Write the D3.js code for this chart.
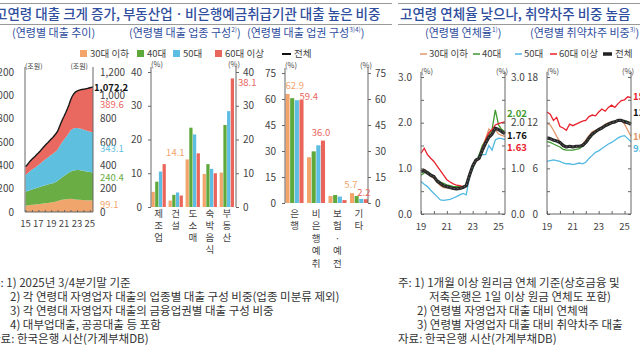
<!DOCTYPE html>
<html><head><meta charset="utf-8">
<script src="https://cdn.jsdelivr.net/npm/d3@7/dist/d3.min.js"></script>
<style>
html,body{margin:0;padding:0;background:#fff;}
svg{display:block;}
text{font-family:"Noto Sans CJK KR","Noto Sans",sans-serif;}
</style></head><body>
<svg id="c" width="640" height="360"></svg>
<script>
// ================= DATA =================
const ageGroups = ["30대 이하","40대","50대","60대 이상"];

// Panel 1: 연령별 대출 추이 (조원), 2015Q1–2025Q3
const loanQuarters = ["15Q1","15Q2","15Q3","15Q4","16Q1","16Q2","16Q3","16Q4","17Q1","17Q2","17Q3","17Q4",
  "18Q1","18Q2","18Q3","18Q4","19Q1","19Q2","19Q3","19Q4","20Q1","20Q2","20Q3","20Q4","21Q1","21Q2","21Q3","21Q4",
  "22Q1","22Q2","22Q3","22Q4","23Q1","23Q2","23Q3","23Q4","24Q1","24Q2","24Q3","24Q4","25Q1","25Q2","25Q3"];
const loanUnder30 = [55,56,58,60, 62,63,64,66, 67,68,70,72, 74,75,77,79, 81,83,86,90, 95,99,102,105, 107,109,110,112, 113,112,110,108, 106,105,104,103, 102,101,101,100, 100,99.5,99.1];
const loan40s = [120,122,125,128, 131,134,137,140, 143,146,149,152, 154,156,158,160, 162,164,166,168, 172,180,188,195, 202,210,218,226, 233,240,245,250, 253,254,254,253, 251,249,247,245, 243,241.5,240.4];
const loan50s = [143,150,158,165, 171,176,181,186, 192,199,206,213, 220,227,233,240, 246,252,258,263, 268,280,292,303, 312,320,330,340, 352,358,362,362, 360,358,357,356, 354,352,350,348, 346,344.5,343.1];
const loan60plus = [72,75,80,85, 88,92,96,100, 104,108,112,116, 120,124,128,132, 136,140,146,152, 158,168,178,190, 200,212,225,240, 260,280,295,308, 318,326,332,338, 345,352,360,368, 376,383,389.6];
const loanTicks = [0,200,400,600,800,1000,1200];
const loanYearTicks = ["15","17","19","21","23","25"];

// Panel 2: 연령별 대출 업종 구성 (%)
const industries = ["제조업","건설","도소매","숙박음식","부동산"];
const indUnder30 = [4.5,1.9,14.1,9.8,10.2];
const ind40s = [7.5,3.6,23.5,12.7,24.3];
const ind50s = [10.5,4.3,21.5,11.3,28.4];
const ind60plus = [12.7,3.4,15.9,10.0,38.1];
const indTicks = [0,10,20,30,40];

// Panel 3: 연령별 대출 업권 구성 (%)
const sectors = ["은행","비은행예취","보험ㆍ예전","기타"];
const secUnder30 = [62.9,26.4,4.0,5.7];
const sec40s = [60.5,29.8,4.6,4.0];
const sec50s = [59.3,33.3,3.7,2.4];
const sec60plus = [59.4,36.0,1.7,2.2];
const secTicks = [0,15,30,45,60,75];

// Panel 4/5: 2019Q1–2025Q3
const rateQuarters = ["19Q1","19Q2","19Q3","19Q4","20Q1","20Q2","20Q3","20Q4","21Q1","21Q2","21Q3","21Q4",
  "22Q1","22Q2","22Q3","22Q4","23Q1","23Q2","23Q3","23Q4","24Q1","24Q2","24Q3","24Q4","25Q1","25Q2","25Q3"];
const delinqUnder30 = [0.95,0.98,0.90,0.82, 0.78,0.70,0.62,0.58, 0.57,0.56,0.55,0.55, 0.56,0.58,0.60,0.82, 1.05,1.20,1.25,1.45, 1.65,1.86,1.80,1.85, 1.75,1.72,1.70];
const delinq40s = [1.33,1.44,1.30,1.22, 1.15,1.05,0.95,0.85, 0.75,0.70,0.66,0.63, 0.62,0.60,0.62,0.85, 1.05,1.15,1.20,1.45, 1.62,1.78,1.85,1.95, 1.98,2.00,2.02];
const delinq50s = [0.85,0.90,0.93,0.88, 0.80,0.75,0.70,0.67, 0.64,0.62,0.60,0.60, 0.60,0.60,0.62,0.85, 1.00,1.15,1.30,1.50, 1.62,1.73,1.85,2.28, 1.95,1.85,1.80];
const delinq60plus = [0.71,0.65,0.60,0.52, 0.45,0.38,0.31,0.30, 0.31,0.32,0.35,0.38, 0.42,0.45,0.42,0.80, 1.00,1.19,1.25,1.30, 1.30,1.50,1.40,1.62, 1.66,1.65,1.63];
const delinqTotal = [0.93,0.95,0.90,0.85, 0.82,0.72,0.67,0.62, 0.60,0.58,0.56,0.55, 0.56,0.58,0.62,0.85, 1.05,1.18,1.22,1.40, 1.55,1.68,1.75,1.88, 1.85,1.80,1.76];
const delinqTicks = [0,1,2,3];

const vulnUnder30 = [11.9,11.7,11.0,10.2, 9.5,9.0,8.8,8.9, 8.9,8.8,8.9,9.2, 9.7,10.3,10.8,11.0, 11.2,11.5,11.8,12.0, 12.1,12.2,12.4,12.3, 11.8,11.0,10.2];
const vuln40s = [9.5,9.4,9.2,9.0, 8.8,8.5,8.4,8.4, 8.4,8.5,8.6,8.9, 9.3,9.8,10.3,10.7, 11.0,11.3,11.5,11.7, 11.9,12.0,12.2,12.3, 12.3,12.1,12.0];
const vuln50s = [6.9,7.0,7.1,7.0, 6.9,6.7,6.6,6.6, 6.5,6.6,6.7,6.6, 6.8,7.3,7.7,8.1, 8.3,8.6,8.9,9.2, 9.4,9.7,10.0,10.2, 10.3,9.9,9.5];
const vuln60plus = [13.4,13.1,12.3,12.7, 11.5,11.3,11.0,11.8, 11.6,11.8,12.0,12.2, 12.3,12.8,13.0,12.9, 13.4,13.8,13.5,14.0, 14.3,14.0,14.5,14.9, 15.0,15.4,15.3];
const vulnTotal = [10.0,9.9,9.7,9.6, 9.4,9.0,8.8,8.9, 8.8,8.9,8.9,9.0, 9.4,10.0,10.5,10.8, 11.1,11.3,11.6,11.8, 12.0,12.1,12.3,12.3, 12.1,12.0,11.8];
const vulnTicks = [0,6,12,18];
const rateYearTicks = ["19","21","23","25"];

// ================= STYLE =================
const areaCol = ["#f0a56c","#6aad45","#5ec0de","#e9685f"];
const barCol  = ["#f2a46b","#5fa83c","#5dbde2","#ea665d"];
const lineCol = ["#e0976a","#3f9a2e","#52b9e2","#e8212c"];
const blue = "#2f4e9e", axisC = "#666", txtC = "#444";

const svg = d3.select("#c");
const qt = q => 2000 + (+q.slice(0,2)) + (+q.slice(3) - 1) / 4;
const yr = s => 2000 + (+s);

function txt(x, y, s, o = {}) {
  const t = svg.append("text").attr("x", x).attr("y", y).text(s)
    .attr("font-size", o.size || 10).attr("fill", o.fill || txtC)
    .attr("text-anchor", o.anchor || "start");
  if (o.weight) t.attr("font-weight", o.weight);
  return t;
}
function vline(x, y1, y2) {
  svg.append("line").attr("x1", x).attr("x2", x).attr("y1", y1).attr("y2", y2)
    .attr("stroke", axisC).attr("stroke-width", 1);
}
function styleAxis(g, size) {
  g.select(".domain").remove();
  g.selectAll(".tick line").attr("stroke", axisC);
  g.selectAll(".tick text").attr("font-size", size || 10).attr("fill", txtC)
    .attr("font-family", '"Noto Sans","Noto Sans CJK KR",sans-serif');
}

// ================= HEADERS =================
[[0,392],[398,640]].forEach(([a,b]) => {
  svg.append("line").attr("x1",a).attr("x2",b).attr("y1",3.5).attr("y2",3.5).attr("stroke","#999");
  svg.append("line").attr("x1",a).attr("x2",b).attr("y1",24.5).attr("y2",24.5).attr("stroke","#999");
});

txt(-5, 19, "고연령 대출 크게 증가, 부동산업ㆍ비은행예금취급기관 대출 높은 비중", {size:13.5, fill:blue, weight:500});
txt(400, 19, "고연령 연체율 낮으나, 취약차주 비중 높음", {size:13.5, fill:blue, weight:500});

function subtitle(x, main, sup, close) {
  const t = txt(x, 37, main, {size:11, fill:blue});
  if (sup) t.append("tspan").attr("font-size", 6.5).attr("dy", -5).text(sup);
  if (close) t.append("tspan").attr("font-size", 11).attr("dy", 5).text(")");
}
subtitle(12, "(연령별 대출 추이)");
subtitle(129, "(연령별 대출 업종 구성", "2)", true);
subtitle(247, "(연령별 대출 업권 구성", "3)4)", true);
subtitle(425, "(연령별 연체율", "1)", true);
subtitle(530, "(연령별 취약차주 비중", "3)", true);

// ================= LEGENDS =================
const legL = [80, 137, 173, 215];
ageGroups.forEach((g, i) => {
  svg.append("rect").attr("x", legL[i]).attr("y", 50).attr("width", 7).attr("height", 7).attr("fill", barCol[i]);
  txt(legL[i] + 10, 57, g, {size:9.5});
});
svg.append("line").attr("x1",282).attr("x2",291).attr("y1",54).attr("y2",54).attr("stroke","#111").attr("stroke-width",2);
txt(294, 57, "전체", {size:9.5});

const legR = [420, 473, 515, 550];
ageGroups.forEach((g, i) => {
  svg.append("line").attr("x1", legR[i]).attr("x2", legR[i] + 7).attr("y1", 54).attr("y2", 54)
    .attr("stroke", lineCol[i]).attr("stroke-width", 1.5);
  txt(legR[i] + 9, 57, g, {size:9.5});
});
svg.append("line").attr("x1",603).attr("x2",612).attr("y1",54).attr("y2",54).attr("stroke","#222").attr("stroke-width",3.5);
txt(615, 57, "전체", {size:9.5});

// ================= PANEL 1: stacked area =================
{
  const x = d3.scaleLinear().domain([2015, 2025.5]).range([25.5, 93]);
  const y = d3.scaleLinear().domain([0, 1200]).range([212, 72]);
  const rows = loanQuarters.map((q, i) => ({t: qt(q), a: loanUnder30[i], b: loan40s[i], c: loan50s[i], d: loan60plus[i]}));
  const st = d3.stack().keys(["a","b","c","d"])(rows);
  const area = d3.area().x(d => x(d.data.t)).y0(d => y(d[0])).y1(d => y(d[1]));
  svg.append("g").selectAll("path").data(st).join("path").attr("d", area).attr("fill", (d, i) => areaCol[i]);
  svg.append("path").datum(st[3]).attr("fill","none").attr("stroke","#1a1a1a").attr("stroke-width",1.4)
    .attr("d", d3.line().x(d => x(d.data.t)).y(d => y(d[1])));
  vline(25, 67, 212); vline(93, 67, 212);
  svg.append("line").attr("x1",25).attr("x2",93).attr("y1",212).attr("y2",212).attr("stroke",axisC);
  styleAxis(svg.append("g").attr("transform","translate(25,0)")
    .call(d3.axisLeft(y).tickValues(loanTicks).tickSize(0).tickPadding(11).tickFormat(d3.format(","))));
  styleAxis(svg.append("g").attr("transform","translate(93,0)")
    .call(d3.axisRight(y).tickValues(loanTicks).tickSize(0).tickPadding(7).tickFormat(d3.format(","))));
  styleAxis(svg.append("g").attr("transform","translate(0,212)")
    .call(d3.axisBottom(x).tickValues(d3.range(2015, 2026)).tickSize(-2).tickFormat(() => "")));
  svg.append("g").selectAll("text").data(loanYearTicks).join("text")
    .attr("x", d => x(yr(d))).attr("y", 226.5).attr("text-anchor","middle")
    .attr("font-size", 9.5).attr("fill", txtC).text(d => d);
  txt(25, 69, "(조원)", {size:7});
  txt(88, 69, "(조원)", {size:7, anchor:"end"});
  const last = st.map(s => s[s.length - 1]);
  const offs = [1.5, -5.5, -0.5, -1.5];
  const fmt = d3.format(",.1f");
  last.forEach((d, i) => {
    txt(100, y((d[0] + d[1]) / 2) + offs[i], fmt(d[1] - d[0]), {size:9.5, fill: areaCol[i]});
  });
  txt(94, y(last[3][1]) + 4.5, fmt(last[3][1]), {size:9.5, fill:"#111", weight:"bold"});
}

// ================= bar panel helper =================
function barPanel(cats, series, x0, x1, y0, yTop, maxV, ticks, axL, axR, rowGap) {
  const x = d3.scaleBand().domain(cats).range([x0 + 0.5, x1 - 2]).paddingInner(0.16);
  const xs = d3.scaleBand().domain(ageGroups).range([0, x.bandwidth()]).paddingInner(0.12);
  const y = d3.scaleLinear().domain([0, maxV]).range([y0, yTop]);
  series.forEach((vals, si) => {
    svg.append("g").selectAll("rect").data(vals).join("rect")
      .attr("x", (d, i) => x(cats[i]) + xs(ageGroups[si]))
      .attr("width", xs.bandwidth())
      .attr("y", d => y(d)).attr("height", d => y0 - y(d))
      .attr("fill", barCol[si]);
  });
  vline(axL, yTop - 5, y0); vline(axR, yTop - 5, y0);
  styleAxis(svg.append("g").attr("transform", `translate(${axL},0)`)
    .call(d3.axisLeft(y).tickValues(ticks).tickSize(3).tickPadding(6)));
  styleAxis(svg.append("g").attr("transform", `translate(${axR},0)`)
    .call(d3.axisRight(y).tickValues(ticks).tickSize(3).tickPadding(4)));
  txt(axL, yTop - 5, "(%)", {size:7.5});
  txt(axR + 4, yTop - 5, "(%)", {size:7.5, anchor:"end"});
  cats.forEach(c => {
    Array.from(c).forEach((ch, k) => {
      txt(x(c) + x.bandwidth() / 2, 216.5 + k * rowGap, ch, {size:9.5, anchor:"middle"});
    });
  });
  return {x, xs, y};
}

// ================= PANEL 2 =================
{
  const s = [indUnder30, ind40s, ind50s, ind60plus];
  const {x, xs, y} = barPanel(industries, s, 151, 236, 207, 72, 40, indTicks, 151, 236, 12);
  txt(x(industries[2]) + xs(ageGroups[0]) - 1, y(indUnder30[2]) - 3, indUnder30[2].toFixed(1), {size:9.5, fill:barCol[0], anchor:"end"});
  txt(x(industries[4]) + xs(ageGroups[3]) + xs.bandwidth() + 4, y(ind60plus[4]) + 8, ind60plus[4].toFixed(1), {size:9.5, fill:barCol[3]});
}

// ================= PANEL 3 =================
{
  const s = [secUnder30, sec40s, sec50s, sec60plus];
  const {x, xs, y} = barPanel(sectors, s, 285, 370, 203, 73, 75, secTicks, 285, 368, 12.5);
  txt(x(sectors[0]) + xs(ageGroups[0]), y(secUnder30[0]) - 5, secUnder30[0].toFixed(1), {size:9.5, fill:barCol[0]});
  txt(x(sectors[0]) + xs(ageGroups[3]), y(sec60plus[0]) - 0.5, sec60plus[0].toFixed(1), {size:9.5, fill:barCol[3]});
  txt(x(sectors[1]) + xs(ageGroups[3]), y(sec60plus[1]) - 5, sec60plus[1].toFixed(1), {size:9.5, fill:barCol[3], anchor:"middle"});
  txt(x(sectors[3]) + xs(ageGroups[0]) + 1, y(secUnder30[3]) - 5, secUnder30[3].toFixed(1), {size:9.5, fill:barCol[0], anchor:"middle"});
  txt(x(sectors[3]) + xs(ageGroups[3]), y(sec60plus[3]) - 3, sec60plus[3].toFixed(1), {size:9.5, fill:barCol[3], anchor:"middle"});
}

// ================= line panel helper =================
function linePanel(series, total, xL, xR, maxV, ticks, minorStep, fmtT, rightLabels) {
  const x = d3.scaleLinear().domain([2019, 2025.5]).range([xL, xR]);
  const y = d3.scaleLinear().domain([0, maxV]).range([214, 77]);
  const line = d3.line().x((d, i) => x(qt(rateQuarters[i]))).y(d => y(d));
  series.forEach((s, i) => {
    svg.append("path").datum(s).attr("d", line).attr("fill","none")
      .attr("stroke", lineCol[i]).attr("stroke-width", 1.3);
  });
  svg.append("path").datum(total).attr("d", line).attr("fill","none")
    .attr("stroke", "#262626").attr("stroke-width", 3.2).attr("stroke-linejoin","round");
  svg.append("path").datum(total).attr("d", line).attr("fill","none")
    .attr("stroke", "#777").attr("stroke-width", 0.8).attr("stroke-dasharray","1.5 2");
  vline(xL, 72, 214); vline(xR, 72, 214);
  svg.append("line").attr("x1", xL).attr("x2", xR).attr("y1", 214).attr("y2", 214).attr("stroke", axisC);
  const minor = d3.range(0, maxV + 1e-9, minorStep);
  styleAxis(svg.append("g").attr("transform", `translate(${xL},0)`)
    .call(d3.axisRight(y).tickValues(minor).tickSize(3).tickFormat(() => "")));
  styleAxis(svg.append("g").attr("transform", `translate(${xR},0)`)
    .call(d3.axisLeft(y).tickValues(minor).tickSize(3).tickFormat(() => "")));
  styleAxis(svg.append("g").attr("transform", `translate(${xL},0)`)
    .call(d3.axisLeft(y).tickValues(ticks).tickSize(0).tickPadding(9).tickFormat(fmtT)));
  if (rightLabels) styleAxis(svg.append("g").attr("transform", `translate(${xR},0)`)
    .call(d3.axisRight(y).tickValues(ticks).tickSize(0).tickPadding(6).tickFormat(fmtT)));
  styleAxis(svg.append("g").attr("transform", "translate(0,214)")
    .call(d3.axisTop(x).tickValues(d3.range(2019, 2026)).tickSize(3).tickFormat(() => "")));
  svg.append("g").selectAll("text").data(rateYearTicks).join("text")
    .attr("x", d => x(yr(d))).attr("y", 230).attr("text-anchor","middle")
    .attr("font-size", 9.5).attr("fill", txtC).text(d => d);
  txt(xL, 74, "(%)", {size:7.5});
  txt(xR + 3, 74, "(%)", {size:7.5, anchor:"end"});
  return {x, y};
}

// ================= PANEL 4 =================
linePanel([delinqUnder30, delinq50s, delinq60plus, delinq40s], delinqTotal, 421, 505, 3, delinqTicks, 0.5, d3.format(".1f"), true);
{
  const y = d3.scaleLinear().domain([0, 3]).range([214, 77]);
  const e = a => a[a.length - 1];
  txt(507, y(e(delinq40s)) - 5, e(delinq40s).toFixed(2), {size:9.5, fill:"#3f9a2e", weight:"bold"});
  txt(507, y(e(delinqTotal)) + 5, e(delinqTotal).toFixed(2), {size:9.5, fill:"#111", weight:"bold"});
  txt(507, y(e(delinq60plus)) + 11, e(delinq60plus).toFixed(2), {size:9.5, fill:"#e8212c", weight:"bold"});
}

// ================= PANEL 5 =================
linePanel([vulnUnder30, vuln40s, vuln50s, vuln60plus], vulnTotal, 547, 631, 18, vulnTicks, 3, d3.format("d"), false);
{
  const y = d3.scaleLinear().domain([0, 18]).range([214, 77]);
  const e = a => a[a.length - 1];
  txt(633, y(e(vuln60plus)) + 2, e(vuln60plus).toFixed(1), {size:9.5, fill:"#e8212c", weight:"bold"});
  txt(633, y(e(vulnTotal)) - 8, e(vulnTotal).toFixed(1), {size:9.5, fill:"#111", weight:"bold"});
  txt(633, y(e(vulnUnder30)) + 4, e(vulnUnder30).toFixed(1), {size:9.5, fill:"#e0976a", weight:"bold"});
  txt(633, y(e(vuln50s)) + 10, e(vuln50s).toFixed(1), {size:9.5, fill:"#52b9e2", weight:"bold"});
}

// ================= NOTES =================
const notesL = [
  [-10, 287, "주: 1) 2025년 3/4분기말 기준"],
  [10, 301, "2) 각 연령대 자영업자 대출의 업종별 대출 구성 비중(업종 미분류 제외)"],
  [10, 315, "3) 각 연령대 자영업자 대출의 금융업권별 대출 구성 비중"],
  [10, 329, "4) 대부업대출, 공공대출 등 포함"],
  [-10, 343, "자료: 한국은행 시산(가계부채DB)"]
];
const notesR = [
  [398, 287, "주: 1) 1개월 이상 원리금 연체 기준(상호금융 및"],
  [429, 301, "저축은행은 1일 이상 원금 연체도 포함)"],
  [417, 315, "2) 연령별 자영업자 대출 대비 연체액"],
  [417, 329, "3) 연령별 자영업자 대출 대비 취약차주 대출"],
  [398, 343, "자료: 한국은행 시산(가계부채DB)"]
];
notesL.concat(notesR).forEach(([x, y, s]) => txt(x, y, s, {size:11.5, fill:"#333"}));
</script></body></html>
